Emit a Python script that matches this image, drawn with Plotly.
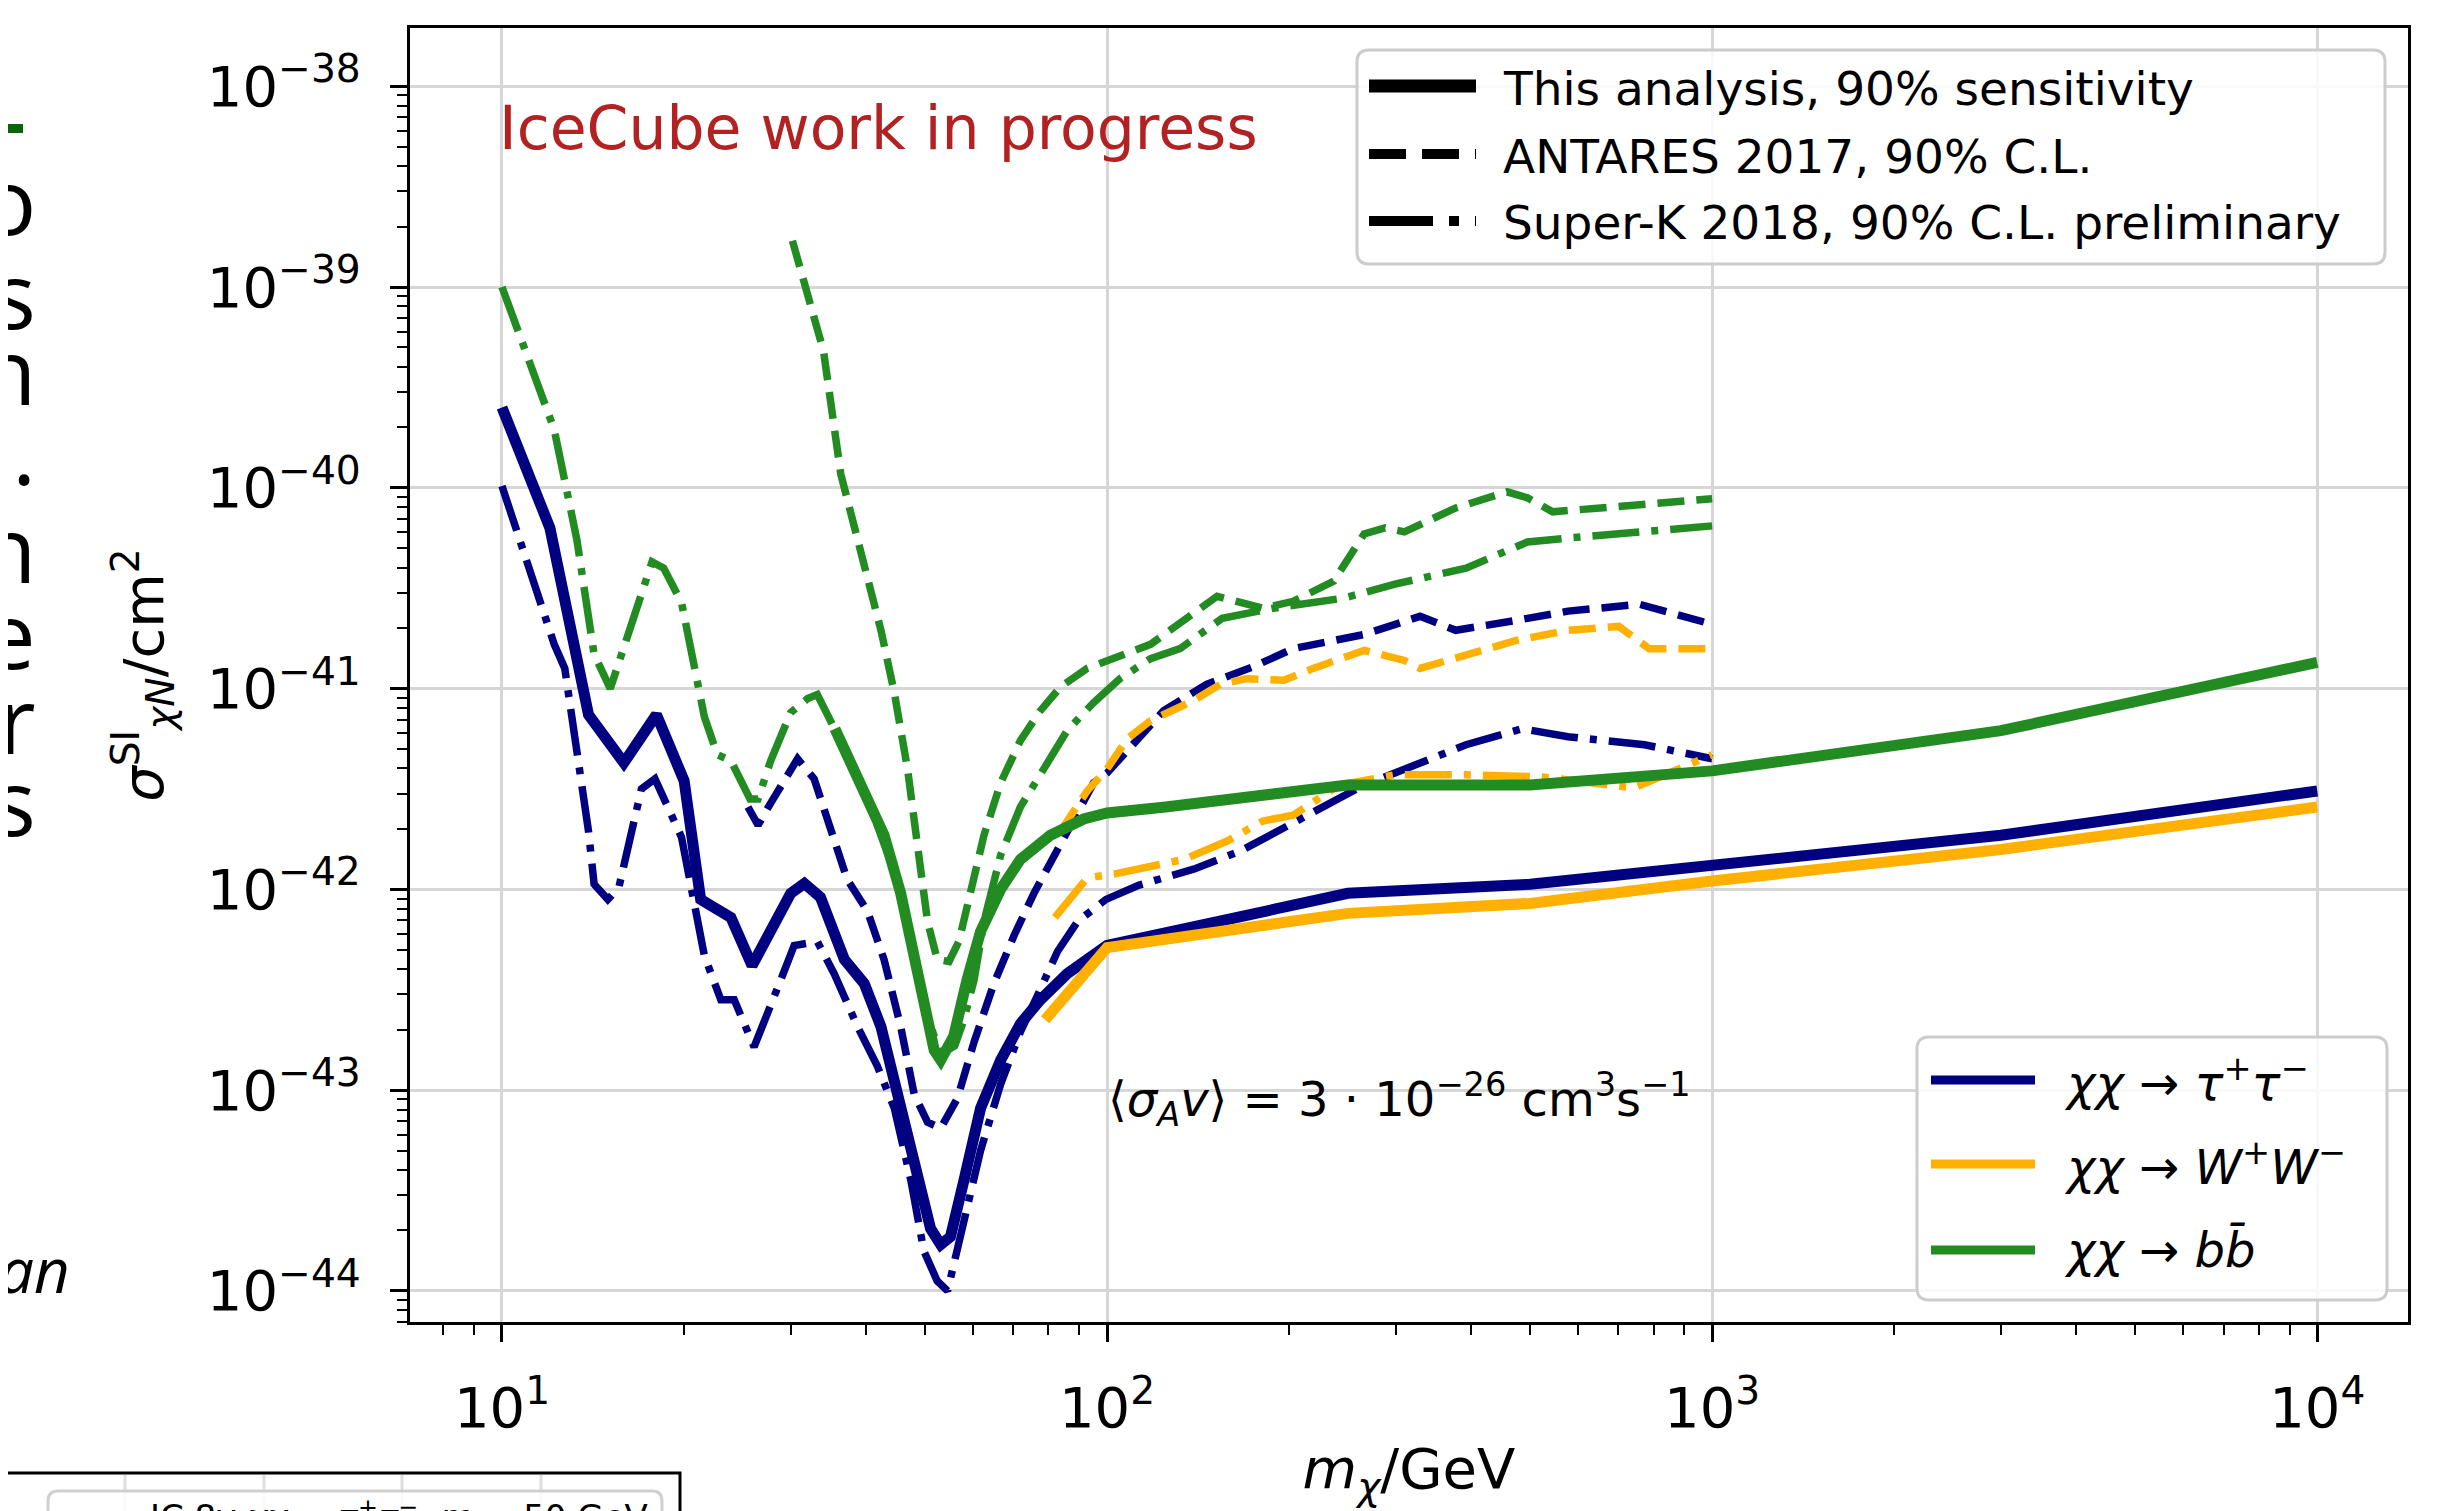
import plotly.graph_objects as go

# ---------------- data: dark-matter mass (GeV) and sigma_SI (cm^2) ----------------
# IceCube (this analysis, 90% sensitivity)
tau_ic_m = [10, 12, 13.9, 15.9, 18, 20, 21.3, 23.9, 25.9, 30, 31.6, 33.6, 36.8, 39.7, 42.3, 45.6,
            48.6, 51.1, 53.1, 55.1, 58, 61.8, 66.7, 71.9, 77.6, 85.9, 100, 250, 500, 1000, 3000, 10000]
tau_ic_sigma = [2.51e-40, 6.31e-41, 7.41e-42, 4.27e-42, 7.41e-42, 3.47e-42, 8.91e-43, 7.24e-43,
                4.17e-43, 9.55e-43, 1.07e-42, 9.12e-43, 4.47e-43, 3.39e-43, 2.07e-43, 8.13e-44,
                3.39e-44, 2.04e-44, 1.70e-44, 1.86e-44, 3.55e-44, 8.13e-44, 1.41e-43, 2.14e-43,
                2.82e-43, 3.80e-43, 5.25e-43, 9.55e-43, 1.06e-42, 1.32e-42, 1.86e-42, 3.09e-42]
W_ic_m = [79, 100, 250, 500, 1000, 3000, 10000]
W_ic_sigma = [2.24e-43, 5.13e-43, 7.59e-43, 8.51e-43, 1.10e-42, 1.58e-42, 2.57e-42]
bb_ic_m = [35.5, 40.2, 42.8, 45.6, 48, 49.8, 51.8, 53.1, 55.8, 58.7, 61.8, 66.7, 71.9, 80.6, 91.5,
           100, 125, 250, 500, 1000, 3000, 10000]
bb_ic_sigma = [6.31e-42, 2.69e-42, 1.86e-42, 9.55e-43, 4.68e-43, 2.45e-43, 1.58e-43, 1.41e-43,
               1.86e-43, 3.55e-43, 6.17e-43, 1.0e-42, 1.41e-42, 1.86e-42, 2.24e-42, 2.40e-42,
               2.57e-42, 3.31e-42, 3.31e-42, 3.89e-42, 6.17e-42, 1.35e-41]

# ANTARES 2017, 90% C.L.
tau_an_m = [25.5, 26.5, 27.8, 30.8, 32.8, 34.9, 37.2, 40.2, 42.8, 45.6, 48, 50.5, 53.1, 56.6, 60.3,
            65, 70.2, 75.7, 81.7, 88.1, 95, 100, 110.7, 124, 146, 175, 203, 266, 329, 377, 476,
            578, 758, 835, 1000]
tau_an_sigma = [2.57e-42, 2.09e-42, 2.69e-42, 4.47e-42, 3.55e-42, 2.07e-42, 1.12e-42, 7.76e-43,
                4.47e-43, 2.07e-43, 9.55e-44, 6.92e-44, 6.46e-44, 9.12e-44, 1.74e-43, 3.39e-43,
                5.89e-43, 9.55e-43, 1.48e-42, 2.29e-42, 3.39e-42, 3.80e-42, 5.25e-42, 7.76e-42,
                1.05e-41, 1.29e-41, 1.58e-41, 1.86e-41, 2.29e-41, 1.95e-41, 2.19e-41, 2.43e-41,
                2.63e-41, 2.43e-41, 2.09e-41]
W_an_m = [83.8, 92.7, 100, 108, 118, 139, 154, 170, 196, 219, 266, 310, 329, 392, 476, 578, 701,
          787, 1000]
W_an_sigma = [1.95e-42, 3.09e-42, 3.98e-42, 5.62e-42, 6.92e-42, 8.71e-42, 1.05e-41, 1.12e-41,
              1.10e-41, 1.26e-41, 1.55e-41, 1.38e-41, 1.26e-41, 1.48e-41, 1.74e-41, 1.95e-41,
              2.04e-41, 1.58e-41, 1.58e-41]
bb_an_m = [30.2, 34, 36.3, 39.7, 42.3, 44.5, 46.8, 48.6, 50.5, 52.4, 54.8, 56.9, 59.5, 62.6, 66.7,
           71.9, 77.6, 83.8, 92.7, 100, 118, 152, 167, 181, 203, 237, 266, 288, 310, 377, 458,
           495, 545, 701, 1000]
bb_an_sigma = [1.70e-39, 4.79e-40, 1.17e-40, 3.98e-41, 1.95e-41, 9.55e-42, 3.98e-42, 1.66e-42,
               6.92e-43, 4.47e-43, 4.37e-43, 5.50e-43, 9.55e-43, 1.86e-42, 3.39e-42, 5.50e-42,
               7.76e-42, 1.02e-41, 1.26e-41, 1.38e-41, 1.66e-41, 2.88e-41, 2.69e-41, 2.51e-41,
               2.72e-41, 3.43e-41, 5.89e-41, 6.31e-41, 6.03e-41, 7.94e-41, 9.55e-41, 8.91e-41,
               7.59e-41, 8.13e-41, 8.81e-41]

# Super-K 2018, 90% C.L. preliminary
tau_sk_m = [10, 11.2, 12.2, 12.7, 13.2, 13.9, 14.2, 14.96, 15.6, 17.0, 17.9, 19.8, 21.6, 23.0, 24.2,
            26.1, 28.9, 30.4, 33.2, 35.4, 38.7, 41.7, 44.5, 47.4, 49.8, 52.4, 54.5, 57.3, 61.8,
            66.7, 71.9, 76.7, 82.8, 89.4, 99.6, 113, 139, 166, 214, 266, 343, 392, 485, 578, 773,
            1000]
tau_sk_sigma = [1.02e-40, 3.72e-41, 1.66e-41, 1.26e-41, 5.75e-42, 1.95e-42, 1.06e-42, 8.91e-43,
                1.02e-42, 3.16e-42, 3.55e-42, 1.82e-42, 4.68e-43, 2.82e-43, 2.82e-43, 1.64e-43,
                3.55e-43, 5.25e-43, 5.50e-43, 3.80e-43, 2.07e-43, 1.32e-43, 8.13e-44, 3.55e-44,
                1.58e-44, 1.12e-44, 1.0e-44, 1.86e-44, 5.01e-44, 1.07e-43, 1.95e-43, 2.95e-43,
                4.90e-43, 6.92e-43, 8.91e-43, 1.05e-42, 1.26e-42, 1.55e-42, 2.34e-42, 3.31e-42,
                4.47e-42, 5.25e-42, 6.31e-42, 5.75e-42, 5.25e-42, 4.47e-42]
W_sk_m = [82, 92.7, 104, 134, 158, 181, 203, 242, 299, 392, 525, 743, 1000]
W_sk_sigma = [7.24e-43, 1.14e-42, 1.20e-42, 1.41e-42, 1.74e-42, 2.19e-42, 2.34e-42, 3.31e-42,
              3.72e-42, 3.72e-42, 3.63e-42, 3.20e-42, 4.68e-42]
bb_sk_m = [10, 11.4, 12.2, 13.3, 14.2, 15.1, 16.1, 17.7, 18.5, 19.8, 21.6, 22.7, 23.9, 25.7, 26.5,
           27.8, 30, 32, 33.2, 34.9, 40.2, 45.6, 49.8, 53, 56, 58, 60.3, 62.6, 66.7, 71.9, 78.6,
           85.9, 95, 105, 118, 132, 155, 188, 246, 299, 392, 495, 578, 1000]
bb_sk_sigma = [1.0e-39, 3.47e-40, 1.95e-40, 5.50e-41, 1.48e-41, 1.0e-41, 1.82e-41, 4.27e-41,
               3.98e-41, 2.69e-41, 7.24e-42, 4.68e-42, 4.37e-42, 2.82e-42, 2.82e-42, 4.37e-42,
               7.59e-42, 8.91e-42, 9.33e-42, 6.92e-42, 2.82e-42, 1.0e-42, 2.63e-43, 1.51e-43,
               1.66e-43, 2.24e-43, 3.55e-43, 6.92e-43, 1.48e-42, 2.57e-42, 3.98e-42, 6.17e-42,
               8.51e-42, 1.12e-41, 1.41e-41, 1.58e-41, 2.24e-41, 2.51e-41, 2.82e-41, 3.31e-41,
               3.98e-41, 5.37e-41, 5.62e-41, 6.46e-41]

# axis ticks
x_tickvals = [10, 100, 1000, 10000]
x_ticktext = ["10<sup>1</sup>", "10<sup>2</sup>", "10<sup>3</sup>", "10<sup>4</sup>"]
y_tickvals = [1e-44, 1e-43, 1e-42, 1e-41, 1e-40, 1e-39, 1e-38]
y_ticktext = ["10<sup>\u221244</sup>", "10<sup>\u221243</sup>", "10<sup>\u221242</sup>",
              "10<sup>\u221241</sup>", "10<sup>\u221240</sup>", "10<sup>\u221239</sup>",
              "10<sup>\u221238</sup>"]

# legend labels
style_labels = ["This analysis, 90% sensitivity", "ANTARES 2017, 90% C.L.",
                "Super-K 2018, 90% C.L. preliminary"]
channel_labels = ["<i>\u03c7\u03c7</i> \u2192 <i>\u03c4</i><sup>+</sup><i>\u03c4</i><sup>\u2212</sup>",
                  "<i>\u03c7\u03c7</i> \u2192 <i>W</i><sup>+</sup><i>W</i><sup>\u2212</sup>",
                  "<i>\u03c7\u03c7</i> \u2192 <i>b</i><i>b\u0304</i>"]

# ---------------- styling ----------------
W, H = 2444, 1511
ML, MR, MT, MB = 402, 44, 20, 197
PW, PH = W - ML - MR, H - MT - MB
NAVY, ORANGE, GREEN = "#000080", "#ffb000", "#228b22"
DASH = "27px,12px"
DASHDOT = "47px,12px,7px,12px"
FONT = "DejaVu Sans"
W_SOLID, W_BROKEN = 11, 7.5


def px(x):
    return (x - ML) / PW


def py(y):
    return (H - MB - y) / PH


def rrect(x0, y0, x1, y1, r):
    X0, X1, Y0, Y1 = px(x0), px(x1), py(y0), py(y1)
    rx, ry = r / PW, r / PH
    return (f"M{X0+rx},{Y0} L{X1-rx},{Y0} Q{X1},{Y0} {X1},{Y0-ry} "
            f"L{X1},{Y1+ry} Q{X1},{Y1} {X1-rx},{Y1} L{X0+rx},{Y1} "
            f"Q{X0},{Y1} {X0},{Y1+ry} L{X0},{Y0-ry} Q{X0},{Y0} {X0+rx},{Y0} Z")


fig = go.Figure()

series = [
    (tau_sk_m, tau_sk_sigma, NAVY, DASHDOT, W_BROKEN),
    (W_sk_m, W_sk_sigma, ORANGE, DASHDOT, W_BROKEN),
    (bb_sk_m, bb_sk_sigma, GREEN, DASHDOT, W_BROKEN),
    (tau_an_m, tau_an_sigma, NAVY, DASH, W_BROKEN),
    (W_an_m, W_an_sigma, ORANGE, DASH, W_BROKEN),
    (bb_an_m, bb_an_sigma, GREEN, DASH, W_BROKEN),
    (tau_ic_m, tau_ic_sigma, NAVY, "solid", W_SOLID),
    (W_ic_m, W_ic_sigma, ORANGE, "solid", W_SOLID),
    (bb_ic_m, bb_ic_sigma, GREEN, "solid", W_SOLID),
]
for m, s, c, d, w in series:
    fig.add_trace(go.Scatter(x=m, y=s, mode="lines", showlegend=False, hoverinfo="skip",
                             line=dict(color=c, dash=d, width=w)))

x_minor = [8, 9] + [k * 10 for k in range(2, 10)] + [k * 100 for k in range(2, 10)] + \
          [k * 1000 for k in range(2, 10)]
y_minor = [k * 10.0 ** e for e in range(-45, -37) for k in range(2, 10)]

axis_common = dict(
    type="log", showline=True, linecolor="black", linewidth=3, mirror=True,
    ticks="outside", ticklen=17, tickwidth=3, tickcolor="black",
    showgrid=True, gridcolor="#d6d6d6", gridwidth=3, zeroline=False,
    tickfont=dict(family=FONT, size=56, color="black"),
    tickmode="array",
)

fig.update_xaxes(**axis_common, range=[0.848, 4.15], tickvals=x_tickvals, ticktext=x_ticktext,
                 minor=dict(tickmode="array", tickvals=x_minor, ticks="outside", ticklen=10,
                            tickwidth=2, tickcolor="black", showgrid=False),
                 ticklabelstandoff=18,
                 title=dict(text="<i>m</i><sub><i>\u03c7</i></sub>/GeV",
                            font=dict(family=FONT, size=56, color="black"), standoff=10))
fig.update_yaxes(**axis_common, range=[-44.155, -37.71], tickvals=y_tickvals, ticktext=y_ticktext,
                 minor=dict(tickmode="array", tickvals=y_minor, ticks="outside", ticklen=10,
                            tickwidth=2, tickcolor="black", showgrid=False),
                 ticklabelstandoff=18,
                 title=dict(text="<i>\u03c3</i><sup>SI</sup><sub><i>\u03c7N</i></sub>/cm<sup>2</sup>",
                            font=dict(family=FONT, size=56, color="black"), standoff=26))

shapes = []
annotations = []

# ---- top legend (line styles) ----
shapes.append(dict(type="path", xref="paper", yref="paper", path=rrect(1349, 42, 2377, 256, 12),
                   line=dict(color="#cccccc", width=3), fillcolor="rgba(255,255,255,0.85)"))
top_rows = [78, 146, 213]
top_styles = [("solid", 13), ("37px,16px", 10), ("64px,16px,10px,16px", 10)]
for yy, (d, w), lab in zip(top_rows, top_styles, style_labels):
    shapes.append(dict(type="line", xref="paper", yref="paper", x0=px(1361), x1=px(1468),
                       y0=py(yy), y1=py(yy), line=dict(color="black", width=w, dash=d)))
    annotations.append(dict(xref="paper", yref="paper", x=px(1493), y=py(yy + 2), text=lab,
                            xanchor="left", yanchor="middle", showarrow=False,
                            font=dict(family=FONT, size=47, color="black")))

# ---- bottom legend (channels) ----
shapes.append(dict(type="path", xref="paper", yref="paper", path=rrect(1909, 1029, 2379, 1292, 12),
                   line=dict(color="#cccccc", width=3), fillcolor="rgba(255,255,255,0.85)"))
bot_rows = [1072, 1156, 1242]
for yy, c, lab in zip(bot_rows, [NAVY, ORANGE, GREEN], channel_labels):
    shapes.append(dict(type="line", xref="paper", yref="paper", x0=px(1923), x1=px(2027),
                       y0=py(yy), y1=py(yy), line=dict(color=c, width=9)))
    annotations.append(dict(xref="paper", yref="paper", x=px(2054), y=py(yy), text=lab,
                            xanchor="left", yanchor="middle", showarrow=False,
                            font=dict(family=FONT, size=48, color="black")))

# ---- in-plot texts ----
annotations.append(dict(xref="paper", yref="paper", x=px(489), y=py(120),
                        text="IceCube work in progress", xanchor="left", yanchor="middle",
                        showarrow=False, font=dict(family=FONT, size=60, color="#b22222")))
annotations.append(dict(xref="paper", yref="paper", x=px(1098), y=py(1091),
                        text="\u27e8<i>\u03c3</i><sub><i>A</i></sub><i>v</i>\u27e9 = 3 \u00b7 10<sup>\u221226</sup> cm<sup>3</sup>s<sup>\u22121</sup>",
                        xanchor="left", yanchor="middle", showarrow=False,
                        font=dict(family=FONT, size=48, color="black")))

# ---- fragments of the surrounding slide ----
shapes.append(dict(type="rect", xref="paper", yref="paper", x0=px(-10), x1=px(15),
                   y0=py(125), y1=py(116), line=dict(width=0), fillcolor="#0a640a"))
slide_letters = ["o", "s", "n", ".", "n", "e", "r", "s"]
slide_y = [192, 286, 361, 442, 539, 625, 711, 792]
for ch, yy in zip(slide_letters, slide_y):
    annotations.append(dict(xref="paper", yref="paper", x=px(30), y=py(yy), text=ch,
                            xanchor="right", yanchor="middle", showarrow=False,
                            font=dict(family="Open Sans", size=92, color="black")))
annotations.append(dict(xref="paper", yref="paper", x=px(64), y=py(1261), text="<i>an</i>",
                        xanchor="right", yanchor="middle", showarrow=False,
                        font=dict(family="Open Sans", size=62, color="black")))

# second (cut-off) chart at bottom-left
for gx in [117, 256, 394, 533]:
    shapes.append(dict(type="line", xref="paper", yref="paper", x0=px(gx), x1=px(gx),
                       y0=py(1467), y1=py(1530), line=dict(color="#dddddd", width=3)))
shapes.append(dict(type="path", xref="paper", yref="paper", path=rrect(40, 1483, 654, 1580, 10),
                   line=dict(color="#d0d0d0", width=3), fillcolor="rgba(255,255,255,0.85)"))
shapes.append(dict(type="line", xref="paper", yref="paper", x0=px(49), x1=px(123),
                   y0=py(1512), y1=py(1512), line=dict(color="#6f6fd0", width=6)))
shapes.append(dict(type="rect", xref="paper", yref="paper", x0=px(-20), x1=px(672),
                   y0=py(1600), y1=py(1465), line=dict(color="black", width=3)))
annotations.append(dict(xref="paper", yref="paper", x=px(140), y=py(1483),
                        text="IC 8y <i>\u03c7\u03c7</i> \u2192 <i>\u03c4</i><sup>+</sup><i>\u03c4</i><sup>\u2212</sup>, <i>m</i> = 50 GeV",
                        xanchor="left", yanchor="top", showarrow=False,
                        font=dict(family=FONT, size=34, color="black")))

fig.update_layout(
    width=W, height=H, autosize=False,
    margin=dict(l=ML, r=MR, t=MT, b=MB, autoexpand=False),
    paper_bgcolor="white", plot_bgcolor="white",
    font=dict(family=FONT, color="black"),
    showlegend=False, shapes=shapes, annotations=annotations,
)

fig.write_html("out.html")
